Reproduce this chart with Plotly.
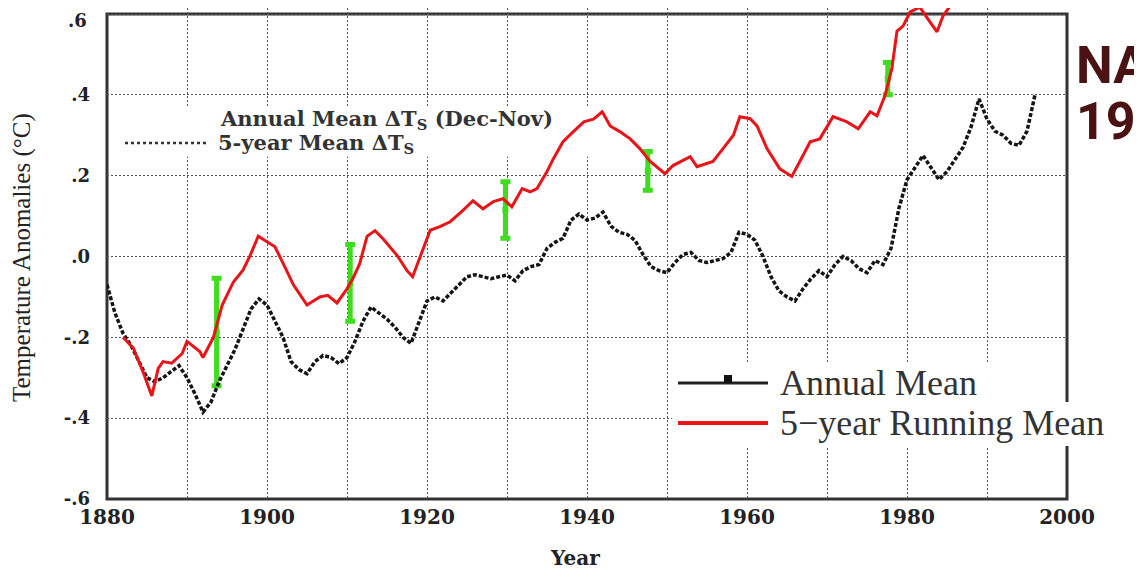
import plotly.graph_objects as go

# ---------------- data ----------------
annual_years = list(range(1880, 1997))
annual_vals = [
    -0.07, -0.14, -0.19, -0.22, -0.26, -0.30, -0.31, -0.30, -0.285, -0.27,   # 1880-1889
    -0.30, -0.34, -0.385, -0.36, -0.31, -0.27, -0.23, -0.18, -0.13, -0.105,  # 1890-1899
    -0.12, -0.16, -0.20, -0.26, -0.28, -0.29, -0.26, -0.245, -0.25, -0.265,  # 1900-1909
    -0.25, -0.21, -0.16, -0.125, -0.14, -0.155, -0.175, -0.20, -0.215, -0.16,  # 1910-1919
    -0.11, -0.10, -0.11, -0.09, -0.07, -0.05, -0.045, -0.05, -0.055, -0.05,  # 1920-1929
    -0.046, -0.06, -0.035, -0.025, -0.02, 0.02, 0.035, 0.045, 0.09, 0.105,   # 1930-1939
    0.09, 0.095, 0.11, 0.075, 0.06, 0.055, 0.04, 0.005, -0.025, -0.035,      # 1940-1949
    -0.04, -0.015, 0.005, 0.01, -0.01, -0.015, -0.01, -0.005, 0.01, 0.06,    # 1950-1959
    0.055, 0.04, 0.0, -0.05, -0.085, -0.10, -0.11, -0.08, -0.055, -0.035,    # 1960-1969
    -0.05, -0.02, 0.0, -0.01, -0.03, -0.04, -0.01, -0.02, 0.02, 0.12,        # 1970-1979
    0.19, 0.22, 0.25, 0.22, 0.19, 0.21, 0.24, 0.27, 0.32, 0.39,              # 1980-1989
    0.34, 0.31, 0.30, 0.28, 0.275, 0.31, 0.40                                # 1990-1996
]

running_years = [
    1882.0, 1883.3, 1884.5, 1885.6, 1886.4, 1887.0, 1888.1, 1889.4, 1890.0, 1891.6,
    1892.0, 1893.3, 1894.4, 1895.8, 1897.0, 1897.9, 1898.9, 1900.0, 1901.0, 1902.5,
    1903.3, 1905.0, 1906.6, 1907.6, 1908.75, 1910.0, 1910.75, 1911.6, 1912.5, 1913.5,
    1914.5, 1916.25, 1917.5, 1918.2, 1919.3, 1920.4, 1921.6, 1922.9, 1924.5, 1925.75,
    1927.0, 1928.3, 1929.5, 1930.6, 1931.9, 1932.9, 1933.75, 1935.0, 1935.8, 1937.0,
    1938.3, 1939.6, 1940.8, 1941.9, 1942.9, 1944.1, 1945.4, 1946.6, 1947.9, 1949.75,
    1950.75, 1952.0, 1952.9, 1953.75, 1955.75, 1957.0, 1958.3, 1959.1, 1960.4, 1961.25,
    1962.5, 1964.1, 1965.6, 1966.6, 1967.9, 1969.1, 1970.75, 1972.5, 1973.9, 1975.4,
    1976.25, 1977.25, 1978.1, 1978.75, 1979.5, 1980.4, 1981.6, 1982.6, 1983.75, 1984.5,
    1985.75, 1986.6
]
running_vals = [
    -0.20, -0.227, -0.285, -0.345, -0.277, -0.26, -0.264, -0.24, -0.21, -0.235,
    -0.25, -0.20, -0.12, -0.063, -0.034, 0.003, 0.05, 0.037, 0.024, -0.037,
    -0.07, -0.12, -0.10, -0.096, -0.115, -0.08, -0.054, -0.017, 0.05, 0.064,
    0.044, 0.003, -0.035, -0.05, 0.01, 0.065, 0.074, 0.086, 0.114, 0.138,
    0.118, 0.136, 0.143, 0.123, 0.168, 0.16, 0.168, 0.21, 0.242, 0.284,
    0.309, 0.333, 0.34, 0.358, 0.323, 0.309, 0.291, 0.267, 0.235, 0.205,
    0.225, 0.237, 0.247, 0.222, 0.235, 0.267, 0.30, 0.346, 0.341, 0.323,
    0.267, 0.217, 0.198, 0.235, 0.284, 0.291, 0.346, 0.333, 0.316, 0.358,
    0.348, 0.398, 0.464, 0.558, 0.57, 0.605, 0.617, 0.588, 0.556, 0.595,
    0.63, 0.66
]

err_years = [1893.7, 1910.4, 1929.8, 1947.6, 1977.6]
err_centers = [-0.187, -0.065, 0.115, 0.212, 0.44]
err_half = [0.133, 0.095, 0.07, 0.048, 0.04]

x_tick_vals = list(range(1880, 2001, 10))
x_tick_text = ["1880", "", "1900", "", "1920", "", "1940", "", "1960", "", "1980", "", "2000"]
y_tick_vals = [-0.6, -0.4, -0.2, 0.0, 0.2, 0.4, 0.6]
y_tick_text = ["-.6", "-.4", "-.2", ".0", ".2", ".4", ""]   # top label ".6" drawn below as text
y_top_label = ".6"

# ---------------- geometry helpers ----------------
# the page body adds an 8px margin, so the figure starts at (8, 8) of the window
OFF = 8
W, H = 1142 - OFF, 572 - OFF
L, R = 107, 1067            # plot area left/right in window pixels
T, B = OFF, 499             # plot area top/bottom in window pixels
FRAME_TOP = 14              # window pixel row of y = 0.6
y_top = 0.6 + (FRAME_TOP - T) * (1.2 / (B - FRAME_TOP))


def px(x):
    return (x - L) / (R - L)


def py(y):
    return (B - y) / (B - T)


fig = go.Figure()

fig.add_trace(go.Scatter(
    x=err_years, y=err_centers, mode="markers",
    marker=dict(symbol="square", size=6, color="#3fdc1f"),
    error_y=dict(type="data", array=err_half, color="#3fdc1f", thickness=5, width=5),
    showlegend=False, hoverinfo="skip"))

fig.add_trace(go.Scatter(
    x=annual_years, y=annual_vals, mode="lines", name="Annual Mean",
    line=dict(color="#151515", width=3.5, dash="4px,2px"),
    showlegend=False))

fig.add_trace(go.Scatter(
    x=running_years, y=running_vals, mode="lines", name="5-year Running Mean",
    line=dict(color="#ea1418", width=3),
    showlegend=False))

grid = dict(showgrid=True, gridcolor="#555555", gridwidth=1, griddash="2px,2px", zeroline=False)
serif_bold = "DejaVu Serif"
ytick_font = dict(family=serif_bold, size=18, color="#222", weight="bold")

fig.update_xaxes(range=[1880, 2000], tickvals=x_tick_vals, ticktext=x_tick_text,
                 ticks="", ticklabelstandoff=4, automargin=False, ticklabeloverflow="allow",
                 tickfont=dict(family=serif_bold, size=20, color="#222", weight="bold"),
                 showline=False, **grid)
fig.update_yaxes(range=[-0.6, y_top], tickvals=y_tick_vals, ticktext=y_tick_text,
                 ticks="", ticklabelstandoff=16, automargin=False, ticklabeloverflow="allow",
                 tickfont=ytick_font, showline=False, **grid)

shapes = []
# frame (below traces so the red curve runs over it)
shapes.append(dict(type="rect", xref="paper", yref="paper", x0=0, x1=1, y0=0, y1=py(FRAME_TOP),
                   line=dict(color="#333333", width=3), fillcolor="rgba(0,0,0,0)", layer="below"))
# white patch behind inner legend (covers grid, under curves)
shapes.append(dict(type="rect", xref="x", yref="y",
                   x0=1880 + (112 - L) / 8, x1=1880 + (630 - L) / 8,
                   y0=(258 - 158) / 405, y1=(258 - 108) / 405,
                   line=dict(width=0), fillcolor="white", layer="between"))
# dotted sample of inner legend
shapes.append(dict(type="line", xref="paper", yref="paper", x0=px(125), x1=px(207), y0=py(143), y1=py(143),
                   line=dict(color="#333333", width=2.5, dash="dot"), layer="above"))
# lower-right legend white patches
shapes.append(dict(type="rect", xref="paper", yref="paper", x0=px(672), x1=px(1000), y0=py(402), y1=py(363),
                   line=dict(width=0), fillcolor="white", layer="above"))
shapes.append(dict(type="rect", xref="paper", yref="paper", x0=px(672), x1=px(1142), y0=py(446), y1=py(402),
                   line=dict(width=0), fillcolor="white", layer="above"))
# legend samples
shapes.append(dict(type="line", xref="paper", yref="paper", x0=px(678), x1=px(768), y0=py(383), y1=py(383),
                   line=dict(color="#222222", width=3), layer="above"))
shapes.append(dict(type="rect", xref="paper", yref="paper", x0=px(724), x1=px(732), y0=py(383), y1=py(375),
                   line=dict(width=0), fillcolor="#111111", layer="above"))
shapes.append(dict(type="line", xref="paper", yref="paper", x0=px(678), x1=px(768), y0=py(423), y1=py(423),
                   line=dict(color="#ea1418", width=4), layer="above"))

nasa_font = dict(family="Roboto", size=52, color="#4a1212", weight="bold")
annotations = [
    dict(text=y_top_label, xref="paper", yref="paper",
         x=px(89), y=py(8), xanchor="right", yanchor="top", showarrow=False, font=ytick_font),
    dict(text="Annual Mean ΔT<sub>S</sub> (Dec-Nov)", xref="paper", yref="paper",
         x=px(218), y=py(119), xanchor="left", yanchor="middle", showarrow=False,
         font=dict(family=serif_bold, size=21, color="#333", weight="bold")),
    dict(text="5-year Mean ΔT<sub>S</sub>", xref="paper", yref="paper",
         x=px(216), y=py(143), xanchor="left", yanchor="middle", showarrow=False,
         font=dict(family=serif_bold, size=21, color="#333", weight="bold")),
    dict(text="Annual Mean", xref="paper", yref="paper",
         x=px(778), y=py(383), xanchor="left", yanchor="middle", showarrow=False,
         font=dict(family="Liberation Serif", size=36, color="#333")),
    dict(text="5−year Running Mean", xref="paper", yref="paper",
         x=px(778), y=py(423), xanchor="left", yanchor="middle", showarrow=False,
         font=dict(family="Liberation Serif", size=36, color="#333")),
    dict(text="Temperature Anomalies (°C)", xref="paper", yref="paper",
         x=px(22), y=py(258), xanchor="center", yanchor="middle", showarrow=False, textangle=-90,
         font=dict(family="Liberation Serif", size=25, color="#222")),
    dict(text="Year", xref="paper", yref="paper",
         x=px(575), y=py(558), xanchor="center", yanchor="middle", showarrow=False,
         font=dict(family=serif_bold, size=20, color="#222", weight="bold")),
    dict(text="NASA", xref="paper", yref="paper",
         x=px(1074), y=py(66), xanchor="left", yanchor="middle", showarrow=False, font=nasa_font),
    dict(text="1999", xref="paper", yref="paper",
         x=px(1074), y=py(121), xanchor="left", yanchor="middle", showarrow=False, font=nasa_font),
]

fig.update_layout(
    width=W, height=H,
    margin=dict(l=L - OFF, r=W - (R - OFF), t=0, b=H - (B - OFF), pad=0),
    paper_bgcolor="white", plot_bgcolor="white",
    shapes=shapes, annotations=annotations,
    showlegend=False,
)

fig.write_html("out.html")
